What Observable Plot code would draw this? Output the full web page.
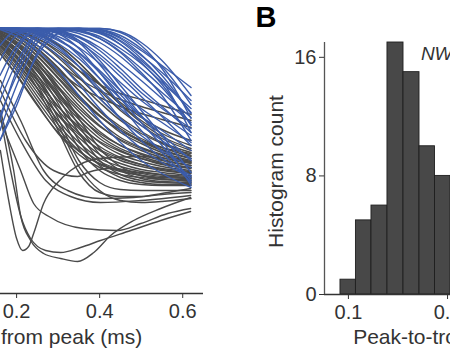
<!DOCTYPE html>
<html>
<head>
<meta charset="utf-8">
<script src="https://cdn.jsdelivr.net/npm/d3@7"></script>
<script src="https://cdn.jsdelivr.net/npm/@observablehq/plot@0.6"></script>
<style>
  html, body { margin: 0; padding: 0; background: #fff; }
  #wrap { position: relative; width: 450px; height: 353px; overflow: hidden; background: #fff;
          font-family: "Liberation Sans", Arial, sans-serif; }
  #left, #right { position: absolute; top: 0; height: 353px; }
  #left { left: -140px; width: 343px; }
  #right { left: 230px; width: 338px; }
  #wrap svg { max-width: none !important; display: block; }
</style>
</head>
<body>
<div id="wrap"><div id="left"></div><div id="right"></div></div>
<script>
// ---------- Panel A (partial): waveforms, amplitude (µV, arbitrary) vs time from peak (ms)
const timeGrid = [0.16, 0.2, 0.25, 0.3, 0.35, 0.4, 0.45, 0.5, 0.55, 0.62];

const blueWaves = [
  [200,200,200,200,200,199,191,178,163,141],
  [200,200,200,200,200,197,188,173,156,128],
  [200,200,200,200,198,192,180,165,146,120],
  [200,200,200,199,195,186,172,154,136,111],
  [200,200,200,198,192,181,165,148,130,106],
  [200,200,199,196,188,174,156,136,120,100],
  [200,200,198,192,181,165,146,128,113,93],
  [200,200,197,189,176,158,138,120,106,86],
  [200,199,195,185,170,150,130,112,98,78],
  [200,198,192,180,162,140,120,103,88,70],
  [200,197,188,173,153,130,110,93,78,61],
  [200,195,183,166,144,120,98,80,66,51],
  [199,192,178,158,133,108,86,68,55,41],
  [153,183,199,200,200,200,197,186,168,133],
  [128,166,195,200,200,199,193,180,162,124],
  [98,143,186,199,200,198,190,174,153,115],
  [88,128,173,195,199,196,184,166,144,103],
  [113,153,190,200,200,197,187,170,148,96],
  [168,193,200,198,188,168,143,118,93,56],
  [183,198,200,195,180,156,130,106,83,48],
  [138,178,198,197,186,164,138,113,88,43],
  [200,200,198,190,173,150,124,98,76,46],
  [200,199,194,182,162,136,110,88,70,53],
  [108,158,193,199,198,190,176,156,133,88],
  [200,200,199,195,186,171,152,132,112,83],
  [200,200,200,200,199,195,184,168,149,116],
  [200,200,200,199,197,190,177,160,141,104],
  [200,200,199,197,191,178,160,140,122,96],
  [200,199,196,188,175,156,134,112,94,68],
  [88,123,176,198,200,200,196,183,160,110]
];

const grayWaves = [
  [200,198,190,176,158,138,118,103,90,78],
  [200,196,183,166,146,126,108,95,85,73],
  [198,192,176,156,133,113,96,85,76,68],
  [196,186,168,146,123,103,88,78,71,65],
  [193,180,160,136,113,93,80,72,66,61],
  [190,176,153,128,105,86,74,67,62,58],
  [186,170,145,118,96,78,68,62,58,55],
  [182,164,136,108,86,70,62,57,54,52],
  [178,158,128,100,78,64,57,53,51,50],
  [196,187,169,142,110,80,62,53,49,48],
  [194,183,162,131,96,68,54,48,46,45],
  [190,178,153,118,80,58,48,44,43,43],
  [200,199,194,183,166,145,124,106,92,80],
  [200,200,196,184,166,144,124,108,95,83],
  [200,197,187,171,151,130,111,97,86,76],
  [199,194,180,161,138,117,100,88,79,70],
  [197,189,172,150,127,107,91,81,74,67],
  [194,183,164,140,117,97,83,74,68,63],
  [192,178,157,132,109,90,78,70,64,60],
  [188,173,149,122,100,82,71,64,59,56],
  [184,167,140,113,91,74,65,59,56,53],
  [180,161,132,104,82,67,59,55,52,51],
  [176,154,124,95,74,61,54,51,49,49],
  [195,185,166,137,103,74,58,50,47,46],
  [192,180,158,125,88,63,51,46,44,44],
  [186,172,144,104,62,38,28,26,27,30],
  [200,198,188,173,158,144,135,129,123,114],
  [200,196,183,166,150,138,129,122,116,108],
  [198,192,176,158,142,131,122,115,109,101],
  [195,184,165,142,120,102,89,80,73,66],
  [200,195,180,160,138,118,102,90,81,72],
  [191,178,158,134,112,95,83,75,69,63],
  [183,166,140,114,94,79,70,64,60,57],
  [200,193,176,154,132,113,98,87,78,70],
  [175,153,123,96,77,65,58,53,50,47],
  [188,176,150,110,68,46,39,38,38,38],
  [198,190,173,151,130,112,98,88,81,75],
  [188,172,148,122,102,87,77,70,65,61],
  [200,198,190,178,162,144,126,111,99,88],
  [183,170,140,98,56,36,32,32,34,36]
];

// gray waveforms with deep troughs, sampled at their own times
const deepTimes = [
  [0.161,0.181,0.2,0.2145,0.229,0.241,0.265,0.299,0.33,0.4,0.499,0.619],
  [0.161,0.193,0.2096,0.2337,0.265,0.306,0.347,0.386,0.4265,0.482,0.547,0.619],
  [0.161,0.1855,0.2096,0.2337,0.27,0.306,0.354,0.402,0.475,0.547,0.619],
  [0.161,0.2096,0.241,0.282,0.361,0.443,0.499,0.564,0.619],
  [0.161,0.2096,0.265,0.323,0.402,0.482,0.564,0.619],
  [0.161,0.2217,0.289,0.347,0.371,0.4265,0.499,0.619],
  [0.161,0.2096,0.27,0.33,0.402,0.499,0.619]
];
const deepValues = [
  [78,28,-10,-22,-18,-5,25,46,58,70,72,66],
  [118,58,13,-12,-25,-30,-33,-24,-7,8,20,31],
  [113,58,13,-10,-22,-24,-19,-12,-2,8,17],
  [108,58,25,11,0,-2,5,15,20],
  [148,108,58,38,30,31,36,40],
  [138,88,58,52,56,60,56,50],
  [128,88,48,32,26,28,33]
];

// ---------- Panel B: histogram of peak-to-trough duration (ms)
const binLower = [0.0946, 0.1054, 0.1175, 0.1314, 0.1470, 0.1644, 0.1832];
const binUpper = [0.1054, 0.1175, 0.1314, 0.1470, 0.1644, 0.1832, 0.2042];
const binCount = [1, 5, 6, 17, 15, 10, 8];
const histTicksX = [0.1, 0.2, 0.4];
const histTicksY = [0, 8, 16];
const noteText = ["NW"];
const noteX = [0.166];
const noteY = [16.2];

const waveTicksX = [0, 0.2, 0.4, 0.6];

// ---------- build tables
const grayRows = [];
grayWaves.forEach((vals, i) => vals.forEach((a, j) => grayRows.push({id: "g" + i, t: timeGrid[j], a})));
deepValues.forEach((vals, i) => vals.forEach((a, j) => grayRows.push({id: "d" + i, t: deepTimes[i][j], a})));
const blueRows = [];
blueWaves.forEach((vals, i) => vals.forEach((a, j) => blueRows.push({id: "b" + i, t: timeGrid[j], a})));

const bins = binCount.map((c, i) => ({x1: binLower[i], x2: binUpper[i], count: c}));
const notes = noteText.map((s, i) => ({s, x: noteX[i], y: noteY[i]}));

const font = "'Liberation Sans', Arial, Helvetica, sans-serif";
const ink = "#333333";

const left = Plot.plot({
  width: 343, height: 353,
  marginLeft: 31.5, marginRight: 0, marginTop: 28, marginBottom: 60,
  style: {fontFamily: font, fontSize: "20px", color: ink, background: "transparent", overflow: "visible", maxWidth: "none"},
  x: {domain: [-0.1, 0.65]},
  y: {domain: [-65, 200], axis: null},
  marks: [
    Plot.line(grayRows, {x: "t", y: "a", z: "id", stroke: "#4a4a4a", strokeWidth: 1.4, curve: "monotone-x"}),
    Plot.line(blueRows, {x: "t", y: "a", z: "id", stroke: "#3b5cab", strokeWidth: 1.4, curve: "monotone-x"}),
    Plot.ruleY([-65], {stroke: ink, strokeWidth: 1.3}),
    Plot.axisX({ticks: waveTicksX, tickSize: 5, tickPadding: 5, tickFormat: d => String(d), fontSize: 20, label: null, stroke: ink}),
    Plot.text(["Time from peak (ms)"], {frameAnchor: "bottom", textAnchor: "middle", dy: 50, dx: -2, fontSize: 21, fill: ink})
  ]
});
document.getElementById("left").appendChild(left);

const right = Plot.plot({
  width: 338, height: 353,
  marginLeft: 94, marginRight: 0, marginTop: 42, marginBottom: 59,
  style: {fontFamily: font, fontSize: "20px", color: ink, background: "transparent", overflow: "visible", maxWidth: "none"},
  x: {type: "log", domain: [0.0846, 0.466]},
  y: {domain: [0, 17]},
  marks: [
    Plot.rectY(bins, {x1: "x1", x2: "x2", y: "count", fill: "#484848", stroke: "#1f1f1f", strokeWidth: 0.9}),
    Plot.ruleY([0], {stroke: ink, strokeWidth: 1.3}),
    Plot.ruleX([0.0846], {stroke: "#555", strokeWidth: 1.3}),
    Plot.axisX({ticks: histTicksX, tickSize: 5, tickPadding: 5, tickFormat: d => String(d), fontSize: 20, label: null, stroke: ink}),
    Plot.axisY({ticks: histTicksY, tickSize: 5, tickPadding: 3, fontSize: 20, label: null, stroke: ink}),
    Plot.text(["Histogram count"], {frameAnchor: "left", textAnchor: "middle", rotate: -90, dx: -48, dy: 3, fontSize: 21, fill: ink}),
    Plot.text(["Peak-to-trough (ms)"], {frameAnchor: "bottom", textAnchor: "middle", dy: 49, fontSize: 21, fill: ink}),
    Plot.text(notes, {x: "x", y: "y", text: "s", textAnchor: "start", fontSize: 19, fontStyle: "italic", fill: ink}),
    Plot.text(["B"], {frameAnchor: "top-left", textAnchor: "start", lineAnchor: "top", dx: -69, dy: -36, fontSize: 29, fontWeight: "bold", fill: "#000"})
  ]
});
document.getElementById("right").appendChild(right);
</script>
</body>
</html>
